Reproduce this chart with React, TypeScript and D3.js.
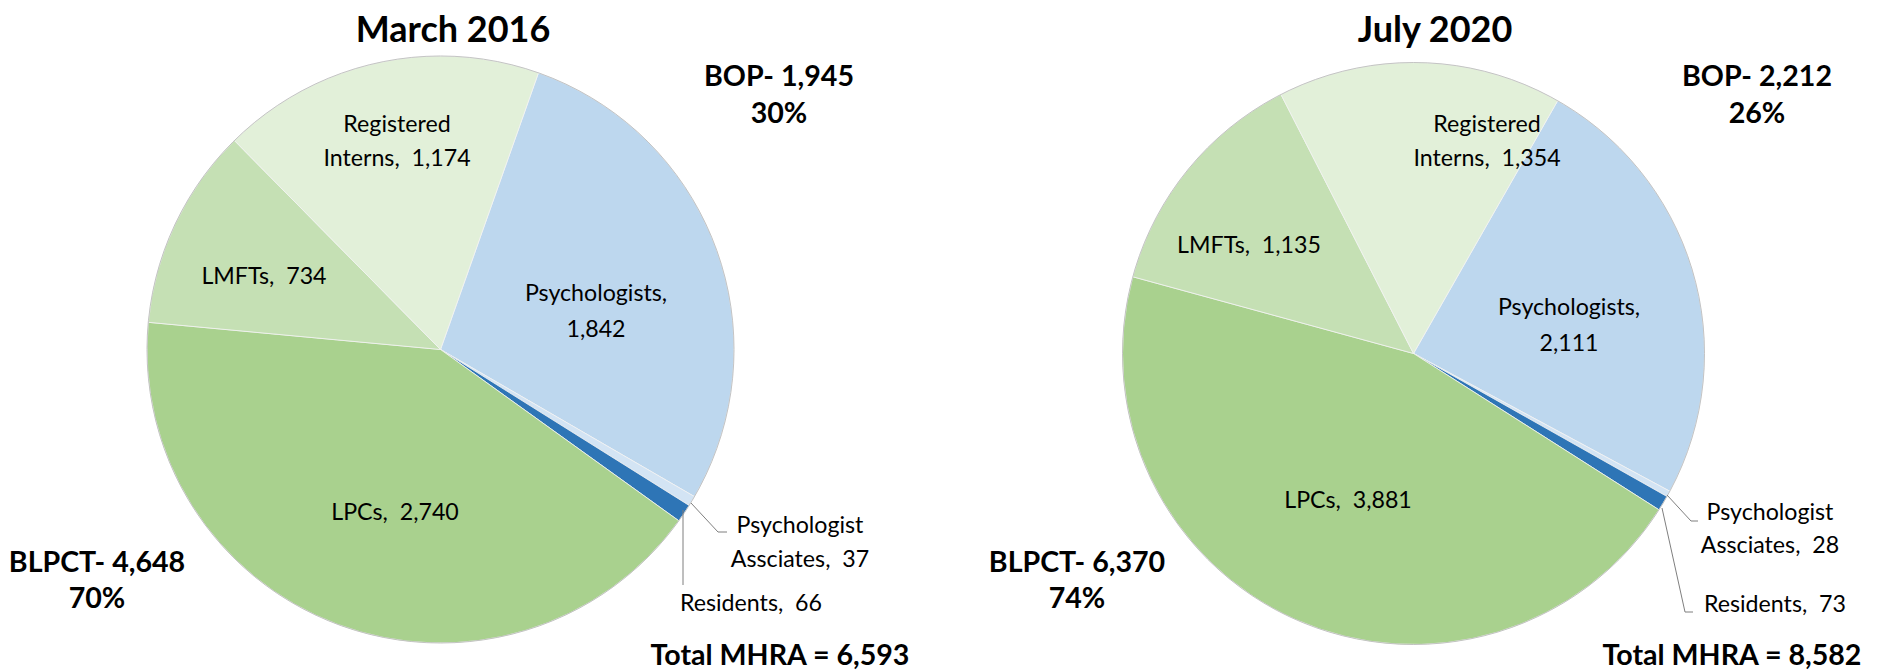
import React from "react";
import * as d3 from "d3";

// ---- Data ----
const categories = ["Psychologists", "Psychologist Assciates", "Residents", "LPCs", "LMFTs", "Registered Interns"];
const values2016 = [1842, 37, 66, 2740, 734, 1174];
const values2020 = [2111, 28, 73, 3881, 1135, 1354];
const bopCategories = ["Psychologists", "Psychologist Assciates", "Residents"];
const titles = ["March 2016", "July 2020"];

// ---- Styles ----
const sliceColors = ["#BDD7EE", "#D3E4F4", "#2E75B6", "#A9D18E", "#C5E0B4", "#E2F0D9"];
const FONT = "Lato, 'Open Sans', sans-serif";
const LABEL_SIZE = 23.2;
const BOLD_SIZE = 28.6;
const TITLE_SIZE = 36;

const fmt = d3.format(",");

// label text builders per category (Excel style "Name,  value")
const labelText: Record<string, (v: number) => string[]> = {
  "Psychologists": (v) => ["Psychologists,", fmt(v)],
  "Psychologist Assciates": (v) => ["Psychologist", `Assciates,  ${fmt(v)}`],
  "Residents": (v) => [`Residents,  ${fmt(v)}`],
  "LPCs": (v) => [`LPCs,  ${fmt(v)}`],
  "LMFTs": (v) => [`LMFTs,  ${fmt(v)}`],
  "Registered Interns": (v) => ["Registered", `Interns,  ${fmt(v)}`],
};

type PieCfg = {
  title: string;
  values: number[];
  cx: number;
  cy: number;
  r: number;
  rotDeg: number;
  titleX: number;
  labelPos: Record<string, { x: number; y: number[] }>;
  leaders: Record<string, [number, number][]>;
  bop: { x: number; y: number[] };
  blpct: { x: number; y: number[] };
  total: { x: number; y: number };
};

const pies: PieCfg[] = [
  {
    title: titles[0],
    values: values2016,
    cx: 440.5,
    cy: 349.5,
    r: 293.5,
    rotDeg: 19.5,
    titleX: 453,
    labelPos: {
      "Psychologists": { x: 596, y: [301, 337] },
      "Registered Interns": { x: 397, y: [132, 166] },
      "LMFTs": { x: 264, y: [284] },
      "LPCs": { x: 395, y: [520] },
      "Psychologist Assciates": { x: 800, y: [533, 567] },
      "Residents": { x: 751, y: [611] },
    },
    leaders: {
      "Psychologist Assciates": [[691, 503], [718, 532], [727, 532]],
      "Residents": [[683, 510], [683, 585]],
    },
    bop: { x: 779, y: [86, 123] },
    blpct: { x: 97, y: [572, 608] },
    total: { x: 780, y: 665 },
  },
  {
    title: titles[1],
    values: values2020,
    cx: 1413.5,
    cy: 353.5,
    r: 291,
    rotDeg: 29.7,
    titleX: 1435,
    labelPos: {
      "Psychologists": { x: 1569, y: [315, 351] },
      "Registered Interns": { x: 1487, y: [132, 166] },
      "LMFTs": { x: 1249, y: [253] },
      "LPCs": { x: 1348, y: [508] },
      "Psychologist Assciates": { x: 1770, y: [520, 553] },
      "Residents": { x: 1775, y: [612] },
    },
    leaders: {
      "Psychologist Assciates": [[1667, 495], [1691, 521], [1698, 521]],
      "Residents": [[1662, 508], [1685, 612], [1693, 612]],
    },
    bop: { x: 1757, y: [86, 123] },
    blpct: { x: 1077, y: [572, 608] },
    total: { x: 1732, y: 665 },
  },
];

function Pie({ cfg }: { cfg: PieCfg }) {
  const data = categories.map((c, i) => ({ cat: c, value: cfg.values[i], color: sliceColors[i] }));
  const rot = (cfg.rotDeg * Math.PI) / 180;
  const pieGen = d3
    .pie<{ cat: string; value: number; color: string }>()
    .value((d) => d.value)
    .sort(null)
    .startAngle(rot)
    .endAngle(rot + 2 * Math.PI);
  const arcs = pieGen(data);
  const arcGen = d3.arc<d3.PieArcDatum<any>>().innerRadius(0).outerRadius(cfg.r);

  const total = d3.sum(cfg.values);
  const bopSum = d3.sum(data.filter((d) => bopCategories.includes(d.cat)), (d) => d.value);
  const blpctSum = total - bopSum;
  const pct = d3.format(".0%");
  const line = d3.line();

  const boldText = (x: number, y: number, t: string) => (
    <text x={x} y={y} textAnchor="middle" fontFamily={FONT} fontWeight="bold" fontSize={BOLD_SIZE} fill="#000">
      {t}
    </text>
  );

  return (
    <g>
      <text x={cfg.titleX} y={42} textAnchor="middle" fontFamily={FONT} fontWeight="bold" fontSize={TITLE_SIZE} fill="#000">
        {cfg.title}
      </text>
      <g transform={`translate(${cfg.cx},${cfg.cy})`}>
        {arcs.map((a, i) => (
          <path key={i} d={arcGen(a) || ""} fill={a.data.color} stroke="#f2f2f2" strokeWidth={0.8} />
        ))}
        <circle r={cfg.r} fill="none" stroke="#b8b8b8" strokeWidth={0.8} />
      </g>
      {Object.entries(cfg.leaders).map(([k, pts]) => (
        <path key={k} d={line(pts as [number, number][]) || ""} fill="none" stroke="#7f7f7f" strokeWidth={1} />
      ))}
      {data.map((d) => {
        const pos = cfg.labelPos[d.cat];
        const lines = labelText[d.cat](d.value);
        return lines.map((t, j) => (
          <text
            key={d.cat + j}
            x={pos.x}
            y={pos.y[j]}
            textAnchor="middle"
            fontFamily={FONT}
            fontSize={LABEL_SIZE}
            fill="#000"
            style={{ whiteSpace: "pre" }}
          >
            {t}
          </text>
        ));
      })}
      {boldText(cfg.bop.x, cfg.bop.y[0], `BOP- ${fmt(bopSum)}`)}
      {boldText(cfg.bop.x, cfg.bop.y[1], pct(bopSum / total))}
      {boldText(cfg.blpct.x, cfg.blpct.y[0], `BLPCT- ${fmt(blpctSum)}`)}
      {boldText(cfg.blpct.x, cfg.blpct.y[1], pct(blpctSum / total))}
      {boldText(cfg.total.x, cfg.total.y, `Total MHRA = ${fmt(total)}`)}
    </g>
  );
}

export default function App() {
  return (
    <svg
      width={1887}
      height={671}
      viewBox="0 0 1887 671"
      style={{ position: "absolute", left: 0, top: 0, display: "block", background: "#fff" }}
    >
      <rect width={1887} height={671} fill="#fff" />
      {pies.map((p, i) => (
        <Pie key={i} cfg={p} />
      ))}
    </svg>
  );
}
